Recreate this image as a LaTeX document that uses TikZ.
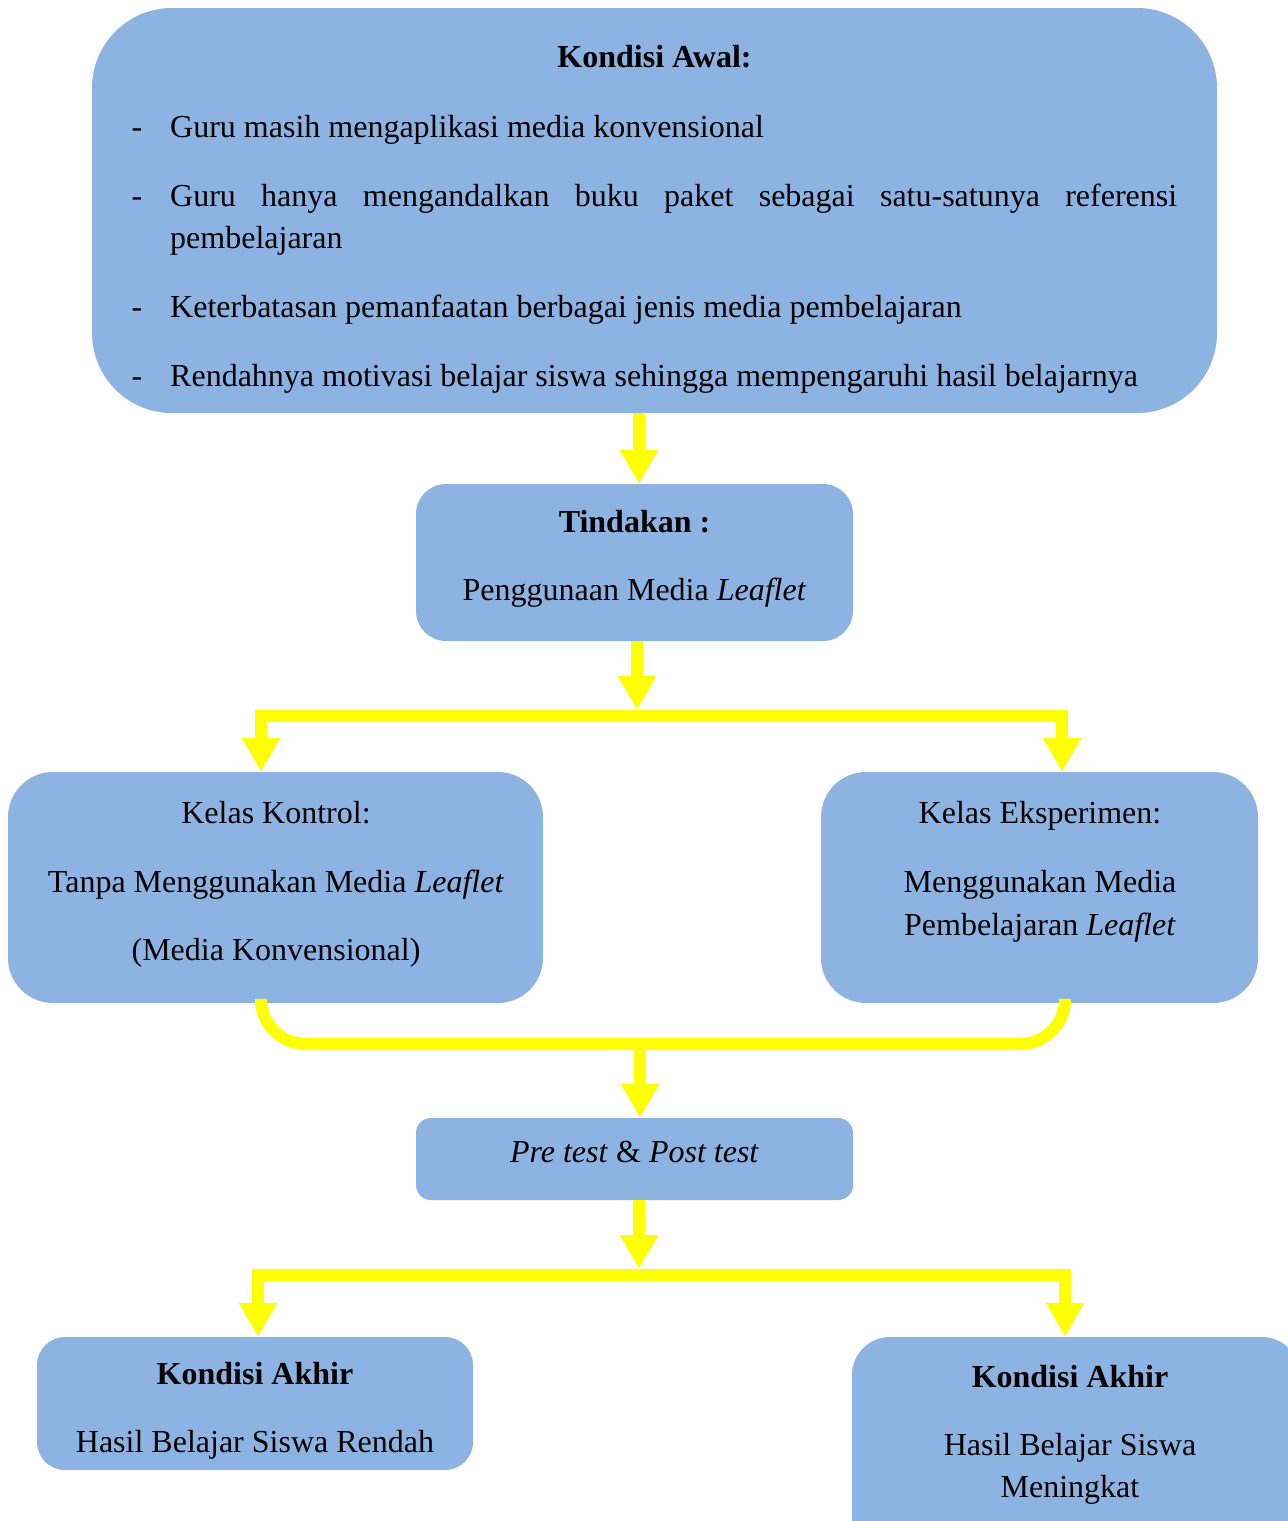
\documentclass[tikz,border=0pt]{standalone}
\usepackage{fontspec}
\setmainfont{Liberation Serif}
\usetikzlibrary{arrows.meta}
\definecolor{boxblue}{RGB}{141,179,226}
\definecolor{arrowyellow}{RGB}{255,255,0}
\tikzset{
  box/.style={fill=boxblue, draw=none, inner sep=0pt, rectangle},
  txt/.style={anchor=base, inner sep=0pt, font=\fontsize{32}{42}\selectfont},
  ltxt/.style={txt, anchor=base west},
  conn/.style={draw=arrowyellow, line width=12pt, line join=miter},
  tiphead/.tip={Triangle[width=36pt,length=34pt]},
  tip/.style={-tiphead},
  twotips/.style={tiphead-tiphead}
}
\begin{document}
\begin{tikzpicture}[x=1pt,y=-1pt]
\useasboundingbox (0,0) rectangle (1288,1521);

% boxes
\node[box, rounded corners=80pt, minimum width=1125pt, minimum height=405pt] (awal) at (654.5,210.5) {};
\node[box, rounded corners=30pt, minimum width=437pt, minimum height=157pt] (tind) at (634.5,562.5) {};
\node[box, rounded corners=45pt, minimum width=535pt, minimum height=231pt] (kon) at (275.5,887.5) {};
\node[box, rounded corners=45pt, minimum width=437pt, minimum height=231pt] (eks) at (1039.5,887.5) {};
\node[box, rounded corners=15pt, minimum width=437pt, minimum height=82pt] (pre) at (634.5,1159) {};
\node[box, rounded corners=28pt, minimum width=436pt, minimum height=133pt] (akl) at (255,1403.5) {};
\node[box, rounded corners=38pt, minimum width=448pt, minimum height=223pt] (akr) at (1076,1448.5) {};

% texts: Kondisi Awal
\node[txt] (tawal) at (654.5,67) {\textbf{Kondisi Awal:}};
\node[txt] (d1) at (137,137) {-};
\node[ltxt] (b1) at (170,137) {Guru masih mengaplikasi media konvensional};
\node[txt] (d2) at (137,206) {-};
\node[ltxt] (b2a) at (170,206) {\makebox[1007pt][s]{Guru hanya mengandalkan buku paket sebagai satu-satunya referensi}};
\node[ltxt] (b2b) at (170,248) {pembelajaran};
\node[txt] (d3) at (137,317) {-};
\node[ltxt] (b3) at (170,317) {Keterbatasan pemanfaatan berbagai jenis media pembelajaran};
\node[txt] (d4) at (137,386) {-};
\node[ltxt] (b4) at (170,386) {Rendahnya motivasi belajar siswa sehingga mempengaruhi hasil belajarnya};

% Tindakan
\node[txt] (ttind) at (634.5,532) {\textbf{Tindakan :}};
\node[txt] (ttind2) at (634.5,600) {Penggunaan Media \textit{Leaflet}};

% Kelas Kontrol
\node[txt] (tk1) at (276,823) {Kelas Kontrol:};
\node[txt] (tk2) at (276,892) {Tanpa Menggunakan Media \textit{Leaflet}};
\node[txt] (tk3) at (276,960) {(Media Konvensional)};

% Kelas Eksperimen
\node[txt] (te1) at (1040,823) {Kelas Eksperimen:};
\node[txt] (te2) at (1040,892) {Menggunakan Media};
\node[txt] (te3) at (1040,935) {Pembelajaran \textit{Leaflet}};

% Pre test
\node[txt] (tpre) at (634.5,1162) {\textit{Pre test} \& \textit{Post test}};

% Kondisi Akhir
\node[txt] (tal1) at (255,1384) {\textbf{Kondisi Akhir}};
\node[txt] (tal2) at (255,1452) {Hasil Belajar Siswa Rendah};
\node[txt] (tar1) at (1070,1387) {\textbf{Kondisi Akhir}};
\node[txt] (tar2) at (1070,1455) {Hasil Belajar Siswa};
\node[txt] (tar3) at (1070,1497) {Meningkat};

% junction coordinates
\coordinate (x0) at (639,0);
\coordinate (j1t) at (637,710);
\coordinate (j1l) at (261,716);
\coordinate (j1r) at (1062,716);
\coordinate (j2l) at (261,1044);
\coordinate (j2m) at (640,1044);
\coordinate (j2r) at (1065,1044);
\coordinate (j3t) at (639,1269);
\coordinate (j3l) at (258,1275);
\coordinate (j3r) at (1065,1275);

% connectors
\draw[conn, tip] (awal.south -| x0) -- (tind.north -| x0);
\draw[conn, tip] (tind.south -| j1t) -- (j1t);
\draw[conn, twotips] (j1l |- kon.north) -- (j1l) -- (j1r) -- (j1r |- eks.north);
\draw[conn, rounded corners=45pt] (j2l |- kon.south) -- (j2l) -- (j2r) -- (j2r |- eks.south);
\draw[conn, tip] (j2m) -- (j2m |- pre.north);
\draw[conn, tip] (pre.south -| j3t) -- (j3t);
\draw[conn, twotips] (j3l |- akl.north) -- (j3l) -- (j3r) -- (j3r |- akr.north);
\end{tikzpicture}
\end{document}
